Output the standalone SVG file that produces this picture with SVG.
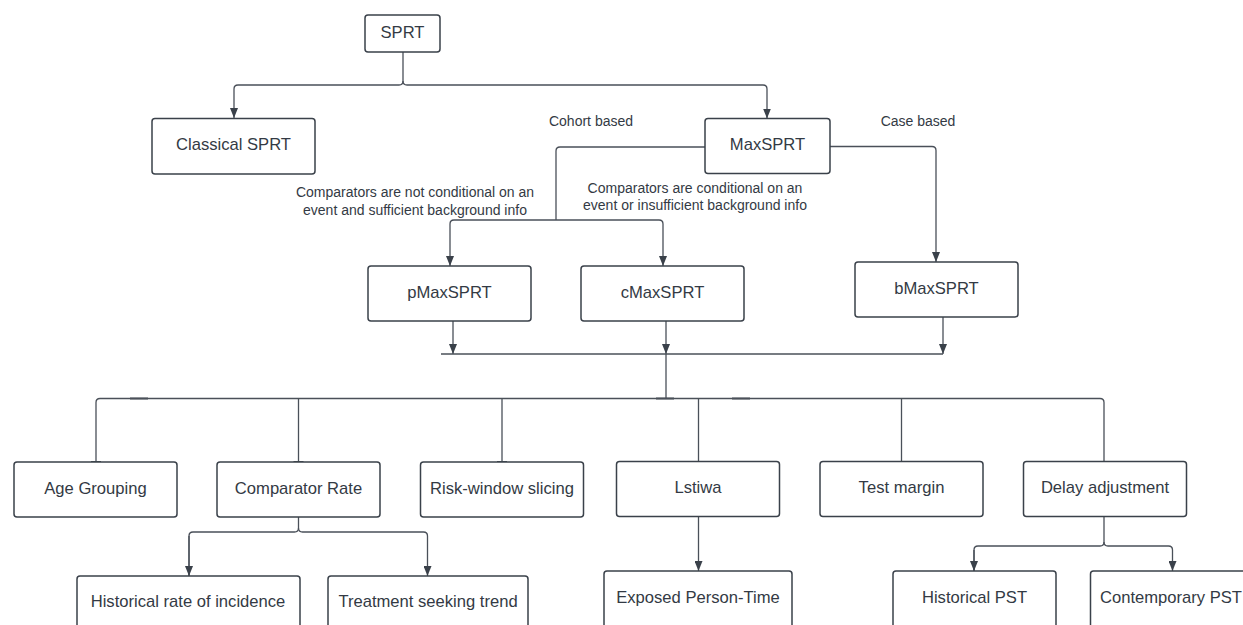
<svg xmlns="http://www.w3.org/2000/svg" width="1243" height="625" viewBox="0 0 1243 625">
<style>
.box{fill:#ffffff;stroke:#3a414a;stroke-width:1.5}
.t{font-family:"Liberation Sans",Arial,sans-serif;font-size:16.6px;fill:#333a44;text-anchor:middle;dominant-baseline:central}
.lbl{font-family:"Liberation Sans",Arial,sans-serif;font-size:14px;fill:#333a44;text-anchor:middle;dominant-baseline:central}
.c{fill:none;stroke:#4a5059;stroke-width:1.3}
.arr{marker-end:url(#ah)}
.tick{stroke:#4a5059;stroke-width:2}
</style>
<defs>
<marker id="ah" viewBox="0 0 10 8" refX="10" refY="4" markerWidth="10" markerHeight="8" markerUnits="userSpaceOnUse" orient="auto">
<path d="M0,0 L10,4 L0,8 Z" fill="#3a414a"/>
</marker>
</defs>
<rect width="1243" height="625" fill="#ffffff"/>
<g id="connectors">
<path class="c arr" d="M403,52 V81 Q403,85 399,85 H238 Q234,85 234,89 V118"/>
<path class="c arr" d="M403,81 Q403,85 407,85 H763 Q767,85 767,89 V118.5"/>
<path class="c" d="M705,147 H560 Q556,147 556,151 V220"/>
<path class="c arr" d="M556,220 H454 Q450,220 450,224 V266"/>
<path class="c arr" d="M556,220 H659 Q663,220 663,224 V266"/>
<path class="c arr" d="M830,146.5 H932 Q936,146.5 936,150.5 V262"/>
<path class="c arr" d="M453,321 V354"/>
<path class="c arr" d="M666,321 V354"/>
<path class="c arr" d="M943,317 V354"/>
<path class="c" d="M441,354 H943"/>
<path class="c" d="M666,354 V398.5"/>
<path class="c" d="M100,398.5 H1100 Q1104,398.5 1104,402.5 V462"/>
<path class="c" d="M96,462 V402.5 Q96,398.5 100,398.5"/>
<path class="c" d="M298.5,398.5 V462"/>
<path class="c" d="M502,398.5 V462"/>
<path class="c" d="M698.5,398.5 V462"/>
<path class="c" d="M901.5,398.5 V462"/>
<path class="tick" d="M130,398.5 H148 M91,462 H101 M293.5,462 H303.5 M497,462 H507 M693.5,462 H703.5 M896.5,462 H906.5 M1099,462 H1109 M656,398.5 H674 M732,398.5 H750"/>
<path class="c" d="M298.5,517 V528 Q298.5,532 294.5,532 H193 Q189,532 189,536 V576"/>
<path class="c arr" d="M189,536 V576"/>
<path class="c arr" d="M298.5,528 Q298.5,532 302.5,532 H423.5 Q427.5,532 427.5,536 V576"/>
<path class="c arr" d="M698.5,517 V571"/>
<path class="c" d="M1104,517 V542 Q1104,546 1100,546 H978 Q974,546 974,550 V571"/>
<path class="c arr" d="M974,550 V571"/>
<path class="c arr" d="M1104,542 Q1104,546 1108,546 H1168.5 Q1172.5,546 1172.5,550 V571"/>
</g>
<g id="labels">
<text class="lbl" x="591" y="121">Cohort based</text>
<text class="lbl" x="918" y="121">Case based</text>
<text class="lbl" x="415" y="192">Comparators are not conditional on an</text>
<text class="lbl" x="415" y="210">event and sufficient background info</text>
<text class="lbl" x="695" y="188">Comparators are conditional on an</text>
<text class="lbl" x="695" y="205">event or insufficient background info</text>
</g>
<g id="n-sprt"><rect class="box" x="365" y="15" width="75" height="37" rx="3"/><text class="t" x="402.5" y="32.5">SPRT</text></g>
<g id="n-classical"><rect class="box" x="152" y="118.5" width="163" height="55.5" rx="3"/><text class="t" x="233.5" y="144">Classical SPRT</text></g>
<g id="n-maxsprt"><rect class="box" x="705" y="118.5" width="125" height="55" rx="3"/><text class="t" x="767.5" y="144">MaxSPRT</text></g>
<g id="n-pmax"><rect class="box" x="368" y="266" width="163" height="55" rx="3"/><text class="t" x="449.5" y="292">pMaxSPRT</text></g>
<g id="n-cmax"><rect class="box" x="581" y="266" width="163" height="55" rx="3"/><text class="t" x="662.5" y="292">cMaxSPRT</text></g>
<g id="n-bmax"><rect class="box" x="855" y="262" width="163" height="55" rx="3"/><text class="t" x="936.5" y="288">bMaxSPRT</text></g>
<g id="n-age"><rect class="box" x="14" y="462" width="163" height="55" rx="3"/><text class="t" x="95.5" y="488.5">Age Grouping</text></g>
<g id="n-comprate"><rect class="box" x="217" y="462" width="163" height="55" rx="3"/><text class="t" x="298.5" y="488.5">Comparator Rate</text></g>
<g id="n-risk"><rect class="box" x="420.5" y="462" width="163" height="55" rx="3"/><text class="t" x="502" y="488.5">Risk-window slicing</text></g>
<g id="n-lstiwa"><rect class="box" x="616.5" y="461.5" width="163" height="55" rx="3"/><text class="t" x="698" y="487.5">Lstiwa</text></g>
<g id="n-testmargin"><rect class="box" x="820" y="461.5" width="163" height="55" rx="3"/><text class="t" x="901.5" y="487.5">Test margin</text></g>
<g id="n-delay"><rect class="box" x="1023.5" y="461.5" width="163" height="55" rx="3"/><text class="t" x="1105" y="487.5">Delay adjustment</text></g>
<g id="n-histrate"><rect class="box" x="77" y="576" width="223" height="60" rx="3"/><text class="t" x="188" y="601">Historical rate of incidence</text></g>
<g id="n-treat"><rect class="box" x="328" y="576" width="200" height="60" rx="3"/><text class="t" x="428" y="601">Treatment seeking trend</text></g>
<g id="n-exposed"><rect class="box" x="604" y="571" width="188" height="65" rx="3"/><text class="t" x="698" y="597">Exposed Person-Time</text></g>
<g id="n-histpst"><rect class="box" x="893" y="571" width="163" height="65" rx="3"/><text class="t" x="974.5" y="597">Historical PST</text></g>
<g id="n-contpst"><rect class="box" x="1090.5" y="571" width="163" height="65" rx="3"/><text class="t" x="1171" y="597">Contemporary PST</text></g>
</svg>
